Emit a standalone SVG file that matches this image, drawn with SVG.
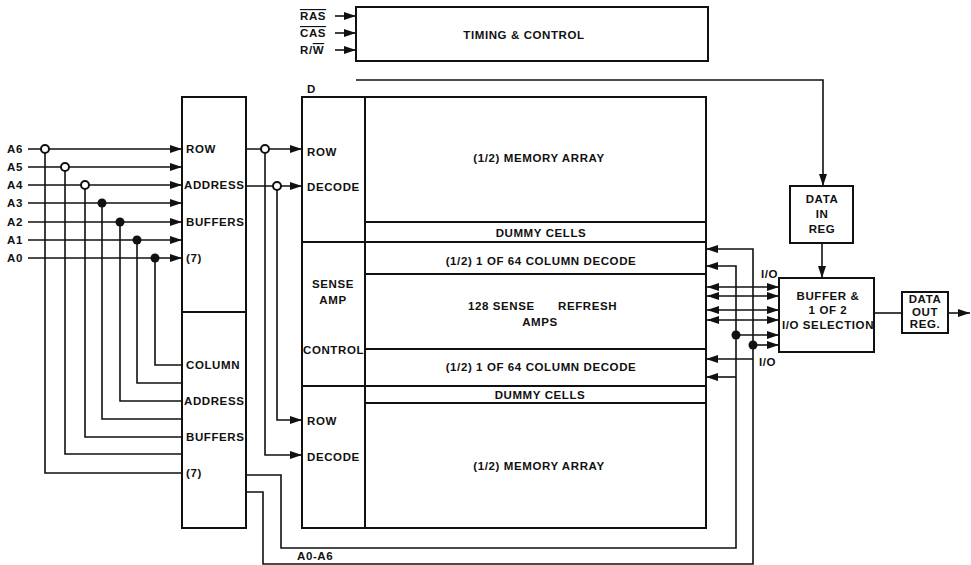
<svg xmlns="http://www.w3.org/2000/svg" width="971" height="565" viewBox="0 0 971 565">
<style>
  .bg{fill:#fff}
  .box{fill:none;stroke:#111;stroke-width:2}
  .ln{fill:none;stroke:#111;stroke-width:1.6}
  .t{font-family:"Liberation Sans",Arial,sans-serif;font-size:11.5px;font-weight:bold;letter-spacing:0.6px;fill:#111}
  .c{text-anchor:middle}
  .hol{fill:#fff;stroke:#111;stroke-width:2}
  .dot{fill:#111}
</style>
<defs>
  <marker id="ah" viewBox="0 0 12 8" refX="12" refY="4" markerWidth="12" markerHeight="8" markerUnits="userSpaceOnUse" orient="auto-start-reverse">
    <path d="M0,0 L12,4 L0,8 z" fill="#111"/>
  </marker>
</defs>
<rect class="bg" x="0" y="0" width="971" height="565"/>

<g id="timing">
  <rect class="box" x="356" y="7" width="352" height="54"/>
  <text class="t c" x="524" y="39">TIMING &amp; CONTROL</text>
</g>
<g id="inputs-ctrl">
  <text class="t" x="300" y="20" text-decoration="overline">RAS</text>
  <text class="t" x="300" y="37" text-decoration="overline">CAS</text>
  <text class="t" x="300" y="54">R/<tspan text-decoration="overline">W</tspan></text>
  <text class="t" x="307" y="93">D</text>
</g>
<g id="addr-labels">
  <text class="t" x="7" y="153">A6</text>
  <text class="t" x="7" y="171">A5</text>
  <text class="t" x="7" y="189">A4</text>
  <text class="t" x="7" y="207">A3</text>
  <text class="t" x="7" y="226">A2</text>
  <text class="t" x="7" y="244">A1</text>
  <text class="t" x="7" y="262">A0</text>
</g>
<g id="address-buffers">
  <rect class="box" x="182" y="97" width="64" height="431"/>
  <line class="box" x1="182" y1="312" x2="246" y2="312"/>
  <text class="t" x="186" y="153">ROW</text>
  <text class="t" x="184" y="189">ADDRESS</text>
  <text class="t" x="186" y="226">BUFFERS</text>
  <text class="t" x="186" y="262">(7)</text>
  <text class="t" x="186" y="369">COLUMN</text>
  <text class="t" x="184" y="405">ADDRESS</text>
  <text class="t" x="186" y="441">BUFFERS</text>
  <text class="t" x="186" y="477">(7)</text>
</g>
<g id="memory">
  <rect class="box" x="302" y="97" width="404" height="431"/>
  <line class="box" x1="365" y1="97" x2="365" y2="528"/>
  <line class="box" x1="365" y1="222" x2="706" y2="222"/>
  <line class="box" x1="302" y1="242" x2="706" y2="242"/>
  <line class="box" x1="365" y1="274" x2="706" y2="274"/>
  <line class="box" x1="365" y1="349" x2="706" y2="349"/>
  <line class="box" x1="302" y1="386" x2="706" y2="386"/>
  <line class="box" x1="365" y1="403" x2="706" y2="403"/>
  <text class="t" x="307" y="156">ROW</text>
  <text class="t" x="307" y="191">DECODE</text>
  <text class="t c" x="333" y="288">SENSE</text>
  <text class="t c" x="333" y="304">AMP</text>
  <text class="t" x="303" y="354">CONTROL</text>
  <text class="t" x="307" y="425">ROW</text>
  <text class="t" x="307" y="461">DECODE</text>
  <text class="t c" x="539" y="162">(1/2) MEMORY ARRAY</text>
  <text class="t c" x="541" y="237">DUMMY CELLS</text>
  <text class="t c" x="541" y="265">(1/2) 1 OF 64 COLUMN DECODE</text>
  <text class="t"><tspan x="468" y="310">128 SENSE</tspan><tspan x="558" y="310">REFRESH</tspan></text>
  <text class="t c" x="540" y="326">AMPS</text>
  <text class="t c" x="541" y="371">(1/2) 1 OF 64 COLUMN DECODE</text>
  <text class="t c" x="540" y="399">DUMMY CELLS</text>
  <text class="t c" x="539" y="470">(1/2) MEMORY ARRAY</text>
</g>
<g id="data-in">
  <rect class="box" x="790" y="186" width="63" height="57"/>
  <text class="t c" x="822" y="203">DATA</text>
  <text class="t c" x="822" y="218">IN</text>
  <text class="t c" x="822" y="233">REG</text>
</g>
<g id="io-select">
  <rect class="box" x="779" y="278" width="95" height="74"/>
  <text class="t c" x="828" y="300">BUFFER &amp;</text>
  <text class="t c" x="828" y="314">1 OF 2</text>
  <text class="t c" x="828" y="329">I/O SELECTION</text>
</g>
<g id="data-out">
  <rect class="box" x="902" y="292" width="46" height="41"/>
  <text class="t c" x="925" y="303">DATA</text>
  <text class="t c" x="925" y="316">OUT</text>
  <text class="t c" x="925" y="328">REG.</text>
</g>
<g id="connectors">
  <path class="ln" d="M335,16 H356" marker-end="url(#ah)"/>
  <path class="ln" d="M335,33 H356" marker-end="url(#ah)"/>
  <path class="ln" d="M335,50 H356" marker-end="url(#ah)"/>
  <path class="ln" d="M356,80 H823 V186" marker-end="url(#ah)"/>
  <path class="ln" d="M28,149 H182" marker-end="url(#ah)"/>
  <path class="ln" d="M28,167 H182" marker-end="url(#ah)"/>
  <path class="ln" d="M28,185 H182" marker-end="url(#ah)"/>
  <path class="ln" d="M28,203 H182" marker-end="url(#ah)"/>
  <path class="ln" d="M28,222 H182" marker-end="url(#ah)"/>
  <path class="ln" d="M28,240 H182" marker-end="url(#ah)"/>
  <path class="ln" d="M28,258 H182" marker-end="url(#ah)"/>
  <path class="ln" d="M45,149 V473 H182"/>
  <path class="ln" d="M65,167 V454 H182"/>
  <path class="ln" d="M85,185 V437 H182"/>
  <path class="ln" d="M102,203 V419 H182"/>
  <path class="ln" d="M120,222 V401 H182"/>
  <path class="ln" d="M137,240 V383 H182"/>
  <path class="ln" d="M155,258 V365 H182"/>
  <circle class="hol" cx="45" cy="149" r="4"/>
  <circle class="hol" cx="65" cy="167" r="4"/>
  <circle class="hol" cx="85" cy="185" r="4"/>
  <circle class="dot" cx="102" cy="203" r="4.5"/>
  <circle class="dot" cx="120" cy="222" r="4.5"/>
  <circle class="dot" cx="137" cy="240" r="4.5"/>
  <circle class="dot" cx="155" cy="258" r="4.5"/>
  <path class="ln" d="M246,149 H302" marker-end="url(#ah)"/>
  <path class="ln" d="M246,186 H302" marker-end="url(#ah)"/>
  <path class="ln" d="M265,149 V455 H302" marker-end="url(#ah)"/>
  <path class="ln" d="M277,186 V420 H302" marker-end="url(#ah)"/>
  <circle class="hol" cx="265" cy="149" r="4"/>
  <circle class="hol" cx="277" cy="186" r="4"/>
  <path class="ln" d="M246,475 H281 V548 H736 V266 H706" marker-end="url(#ah)"/>
  <path class="ln" d="M246,492 H263 V564 H753 V249 H706" marker-end="url(#ah)"/>
  <path class="ln" d="M753,359 H706" marker-end="url(#ah)"/>
  <path class="ln" d="M736,377 H706" marker-end="url(#ah)"/>
  <path class="ln" d="M707,287 H779" marker-start="url(#ah)" marker-end="url(#ah)"/>
  <path class="ln" d="M707,296 H779" marker-start="url(#ah)" marker-end="url(#ah)"/>
  <path class="ln" d="M707,310 H779" marker-start="url(#ah)" marker-end="url(#ah)"/>
  <path class="ln" d="M707,320 H779" marker-start="url(#ah)" marker-end="url(#ah)"/>
  <path class="ln" d="M736,335 H779" marker-end="url(#ah)"/>
  <path class="ln" d="M753,345 H779" marker-end="url(#ah)"/>
  <circle class="dot" cx="736" cy="335" r="4.5"/>
  <circle class="dot" cx="753" cy="345" r="4.5"/>
  <path class="ln" d="M822,243 V278" marker-end="url(#ah)"/>
  <path class="ln" d="M874,313 H902"/>
  <path class="ln" d="M948,313 H970" marker-end="url(#ah)"/>
</g>
<g id="bus-labels">
  <text class="t" x="761" y="278">I/O</text>
  <text class="t" x="759" y="366">I/O</text>
  <text class="t" x="297" y="560">A0-A6</text>
</g>
</svg>
